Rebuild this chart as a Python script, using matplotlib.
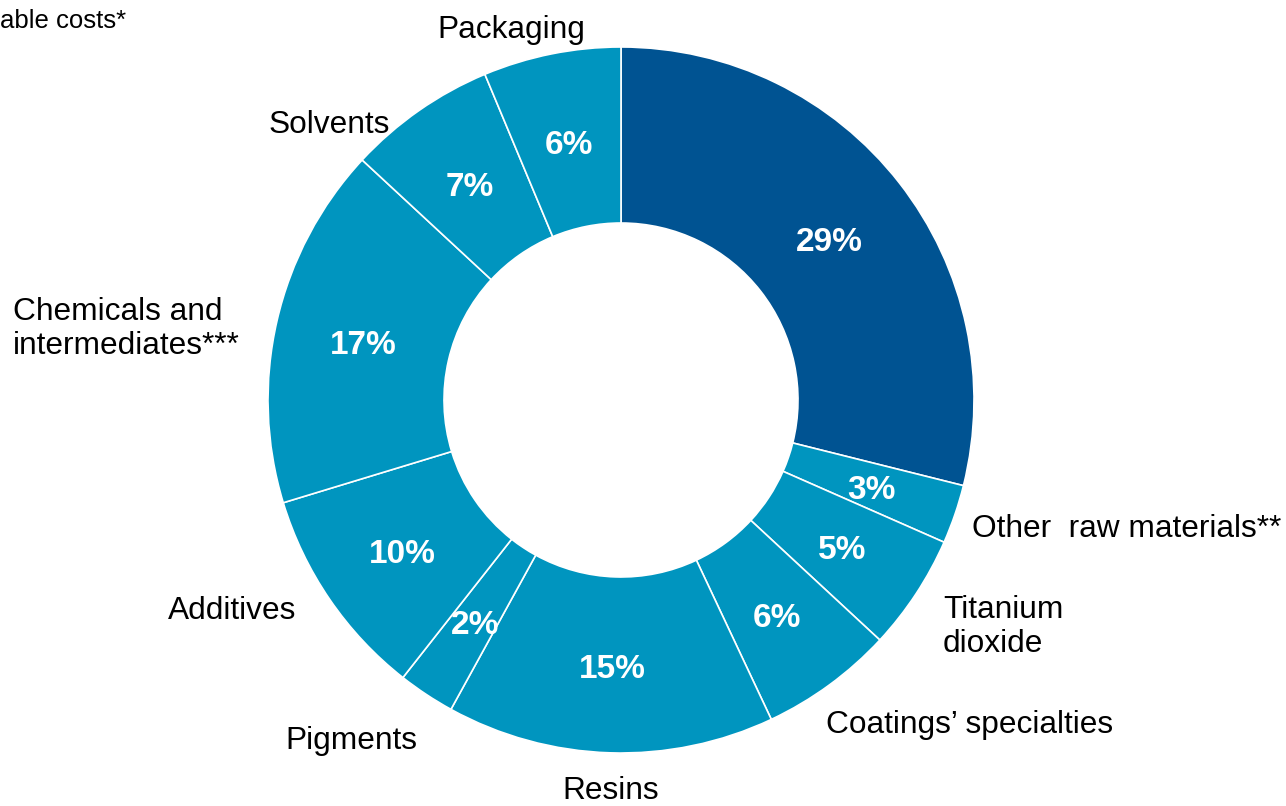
import matplotlib
matplotlib.use("Agg")
import numpy as np
from matplotlib import pyplot as plt

plt.rcParams['font.family'] = ['Liberation Sans', 'DejaVu Sans']

categories = ["", "Other  raw materials**", "Titanium\ndioxide", "Coatings\u2019 specialties",
              "Resins", "Pigments", "Additives", "Chemicals and\nintermediates***",
              "Solvents", "Packaging"]
shares = [28.9, 2.7, 5.3, 6.1, 15.0, 2.6, 9.7, 16.6, 6.8, 6.3]
pct_labels = ["29%", "3%", "5%", "6%", "15%", "2%", "10%", "17%", "7%", "6%"]
colors = ["#005392"] + ["#0095bf"] * 9

# label placement in pixels (x, y from top, horizontal alignment)
label_pos = [None, (972, 529, "left"), (943, 627, "left"), (826, 725, "left"),
             (611, 791, "center"), (285, 741, "left"), (168, 611, "left"),
             (13, 329, "left"), (329, 125, "center"), (511, 30, "center")]

W, H = 1286, 806
fig = plt.figure(figsize=(W / 100, H / 100), dpi=100)
ax = fig.add_axes([0, 0, 1, 1])

R = 353
cx, cy = 621, H - 400
wedges, _ = ax.pie(shares, colors=colors, startangle=90, counterclock=False,
                   center=(cx, cy), radius=R, frame=True,
                   wedgeprops=dict(width=176, edgecolor="white", linewidth=1.2))
ax.set_xlim(0, W)
ax.set_ylim(0, H)
ax.set_aspect("equal")
ax.axis("off")

for w, t in zip(wedges, pct_labels):
    a = np.deg2rad((w.theta1 + w.theta2) / 2)
    ax.text(cx + 0.75 * R * np.cos(a), cy + 0.75 * R * np.sin(a) - 5, t,
            ha="center", va="center", color="white", fontsize=24, fontweight="bold")

for lab, pos in zip(categories, label_pos):
    if pos is None:
        continue
    x, y, ha = pos
    ax.text(x, H - y, lab, ha=ha, va="center", fontsize=22.8, color="black",
            linespacing=1.15)

fig.text(0, 1 - 21 / H, "able costs*", ha="left", va="center", fontsize=18.5, color="black")

fig.savefig("out.png", dpi=100)
